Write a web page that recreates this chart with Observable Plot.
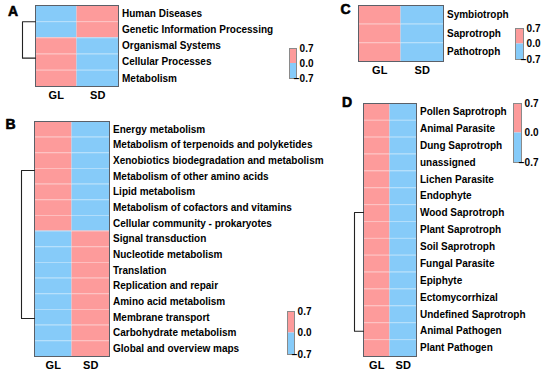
<!DOCTYPE html>
<html><head><meta charset="utf-8">
<script src="https://cdn.jsdelivr.net/npm/d3@7"></script>
<script src="https://cdn.jsdelivr.net/npm/@observablehq/plot@0.6"></script>
<style>
body{margin:0;background:#fff;}
#chart{position:relative;width:550px;height:374px;overflow:hidden;background:#fff;}
#chart svg{position:absolute;left:0;top:0;}
</style></head><body><div id="chart"></div>
<script>
// ---------- data ----------
const columns = ["GL", "SD"];

const rowsA = ["Human Diseases", "Genetic Information Processing", "Organismal Systems", "Cellular Processes", "Metabolism"];
const glA = [-0.7, -0.7, 0.7, 0.7, 0.7];
const sdA = [0.7, 0.7, -0.7, -0.7, -0.7];
const dendroA = [0.5, 2.75];

const rowsB = ["Energy metabolism", "Metabolism of terpenoids and polyketides", "Xenobiotics biodegradation and metabolism",
  "Metabolism of other amino acids", "Lipid metabolism", "Metabolism of cofactors and vitamins", "Cellular community - prokaryotes",
  "Signal transduction", "Nucleotide metabolism", "Translation", "Replication and repair", "Amino acid metabolism",
  "Membrane transport", "Carbohydrate metabolism", "Global and overview maps"];
const glB = [0.7, 0.7, 0.7, 0.7, 0.7, 0.7, 0.7, -0.7, -0.7, -0.7, -0.7, -0.7, -0.7, -0.7, -0.7];
const sdB = [-0.7, -0.7, -0.7, -0.7, -0.7, -0.7, -0.7, 0.7, 0.7, 0.7, 0.7, 0.7, 0.7, 0.7, 0.7];
const dendroB = [2.63, 12.07];

const rowsC = ["Symbiotroph", "Saprotroph", "Pathotroph"];
const glC = [0.7, 0.7, 0.7];
const sdC = [-0.7, -0.7, -0.7];

const rowsD = ["Pollen Saprotroph", "Animal Parasite", "Dung Saprotroph", "unassigned", "Lichen Parasite", "Endophyte",
  "Wood Saprotroph", "Plant Saprotroph", "Soil Saprotroph", "Fungal Parasite", "Epiphyte", "Ectomycorrhizal",
  "Undefined Saprotroph", "Animal Pathogen", "Plant Pathogen"];
const glD = [0.7, 0.7, 0.7, 0.7, 0.7, 0.7, 0.7, 0.7, 0.7, 0.7, 0.7, 0.7, 0.7, 0.7, 0.7];
const sdD = [-0.7, -0.7, -0.7, -0.7, -0.7, -0.7, -0.7, -0.7, -0.7, -0.7, -0.7, -0.7, -0.7, -0.7, -0.7];
const dendroD = [5.96, 13.0];

const legendTicks = ["0.7", "0.0", "\u22120.7"];
const legendTickValues = [0.7, 0.0, -0.7];
const legendBins = [[0, 0.7], [-0.7, 0]];

// ---------- style / layout ----------
const W = 550, H = 374;
const PINK = "#FD9B9B", BLUE = "#86CBF9";
const FONT = "'Liberation Sans', Arial, Helvetica, sans-serif";
const colorScale = {type: "threshold", domain: [0], range: [BLUE, PINK]};
const chart = document.getElementById("chart");

function heatmap({letter, rows, gl, sd, dendro, box, treeW, letterOff}) {
  const n = rows.length;
  const cells = [];
  rows.forEach((r, i) => {
    cells.push({row: i, col: 0, v: gl[i]});
    cells.push({row: i, col: 1, v: sd[i]});
  });
  const colW = (box.right - box.left) / 2;
  const tx = -treeW / colW;
  const bracket = dendro ? [
    {x: 0, y: dendro[0] + 0.5}, {x: tx, y: dendro[0] + 0.5},
    {x: tx, y: dendro[1] + 0.5}, {x: 0, y: dendro[1] + 0.5}] : [];
  const seps = d3.range(1, n);
  const svg = Plot.plot({
    width: W, height: H,
    marginLeft: box.left, marginRight: W - box.right,
    marginTop: box.top, marginBottom: H - box.bottom,
    x: {domain: [0, 2], axis: null},
    y: {domain: [0, n], reverse: true, axis: null},
    color: colorScale,
    style: {background: "transparent", fontFamily: FONT, overflow: "visible"},
    marks: [
      Plot.rect(cells, {x1: "col", x2: d => d.col + 1, y1: "row", y2: d => d.row + 1, fill: "v"}),
      Plot.ruleY(seps, {x1: 0, x2: 2, stroke: "white", strokeOpacity: 0.45, strokeWidth: 0.8}),
      Plot.frame({stroke: "#5b6068", strokeWidth: 1}),
      Plot.line(bracket, {x: "x", y: "y", stroke: "#222", strokeWidth: 1.1}),
      Plot.text(rows, {x: 2, y: (d, i) => i + 0.5, text: d => d, textAnchor: "start", dx: 3.5,
        fontSize: 10, fontWeight: "bold", fill: "#000"}),
      Plot.text(columns, {x: (d, i) => i + 0.5, y: n, text: d => d, dy: 8.5, lineAnchor: "middle",
        fontSize: 11, fontWeight: "bold", fill: "#000"}),
      Plot.text([letter], {x: 0, y: 0, text: d => d, dx: letterOff[0], dy: letterOff[1], lineAnchor: "middle",
        fontSize: 14, fontWeight: 900, fill: "#000", stroke: "#000", strokeWidth: 0.6})
    ]
  });
  chart.appendChild(svg);
}

function legend(box) {
  const svg = Plot.plot({
    width: W, height: H,
    marginLeft: box.left, marginRight: W - box.right,
    marginTop: box.top, marginBottom: H - box.bottom,
    x: {domain: [0, 1], axis: null},
    y: {domain: [-0.7, 0.7], axis: null},
    color: colorScale,
    style: {background: "transparent", fontFamily: FONT, overflow: "visible"},
    marks: [
      Plot.rect(legendBins, {x1: 0, x2: 1, y1: d => d[0], y2: d => d[1], fill: d => (d[0] + d[1]) / 2}),
      Plot.frame({stroke: "#8a8a8a", strokeWidth: 1}),
      Plot.text(legendTicks, {x: 1, y: (d, i) => legendTickValues[i], text: d => d,
        textAnchor: "end", dx: 17, fontSize: 10, fontWeight: "bold", fill: "#000"})
    ]
  });
  chart.appendChild(svg);
}

heatmap({letter: "A", rows: rowsA, gl: glA, sd: sdA, dendro: dendroA,
  box: {left: 35, right: 118, top: 5, bottom: 86}, treeW: 13, letterOff: [-22.5, 6]});
heatmap({letter: "B", rows: rowsB, gl: glB, sd: sdB, dendro: dendroB,
  box: {left: 34, right: 109, top: 121, bottom: 356}, treeW: 13, letterOff: [-24, 3]});
heatmap({letter: "C", rows: rowsC, gl: glC, sd: sdC, dendro: null,
  box: {left: 358, right: 443, top: 5, bottom: 61}, treeW: 0, letterOff: [-13, 4]});
heatmap({letter: "D", rows: rowsD, gl: glD, sd: sdD, dendro: dendroD,
  box: {left: 363, right: 416, top: 103, bottom: 356}, treeW: 9, letterOff: [-16.5, -1]});

legend({left: 289, right: 296, top: 48, bottom: 78});
legend({left: 287, right: 294, top: 311, bottom: 354});
legend({left: 515, right: 523, top: 28, bottom: 59});
legend({left: 513, right: 521, top: 103, bottom: 162});
</script></body></html>
